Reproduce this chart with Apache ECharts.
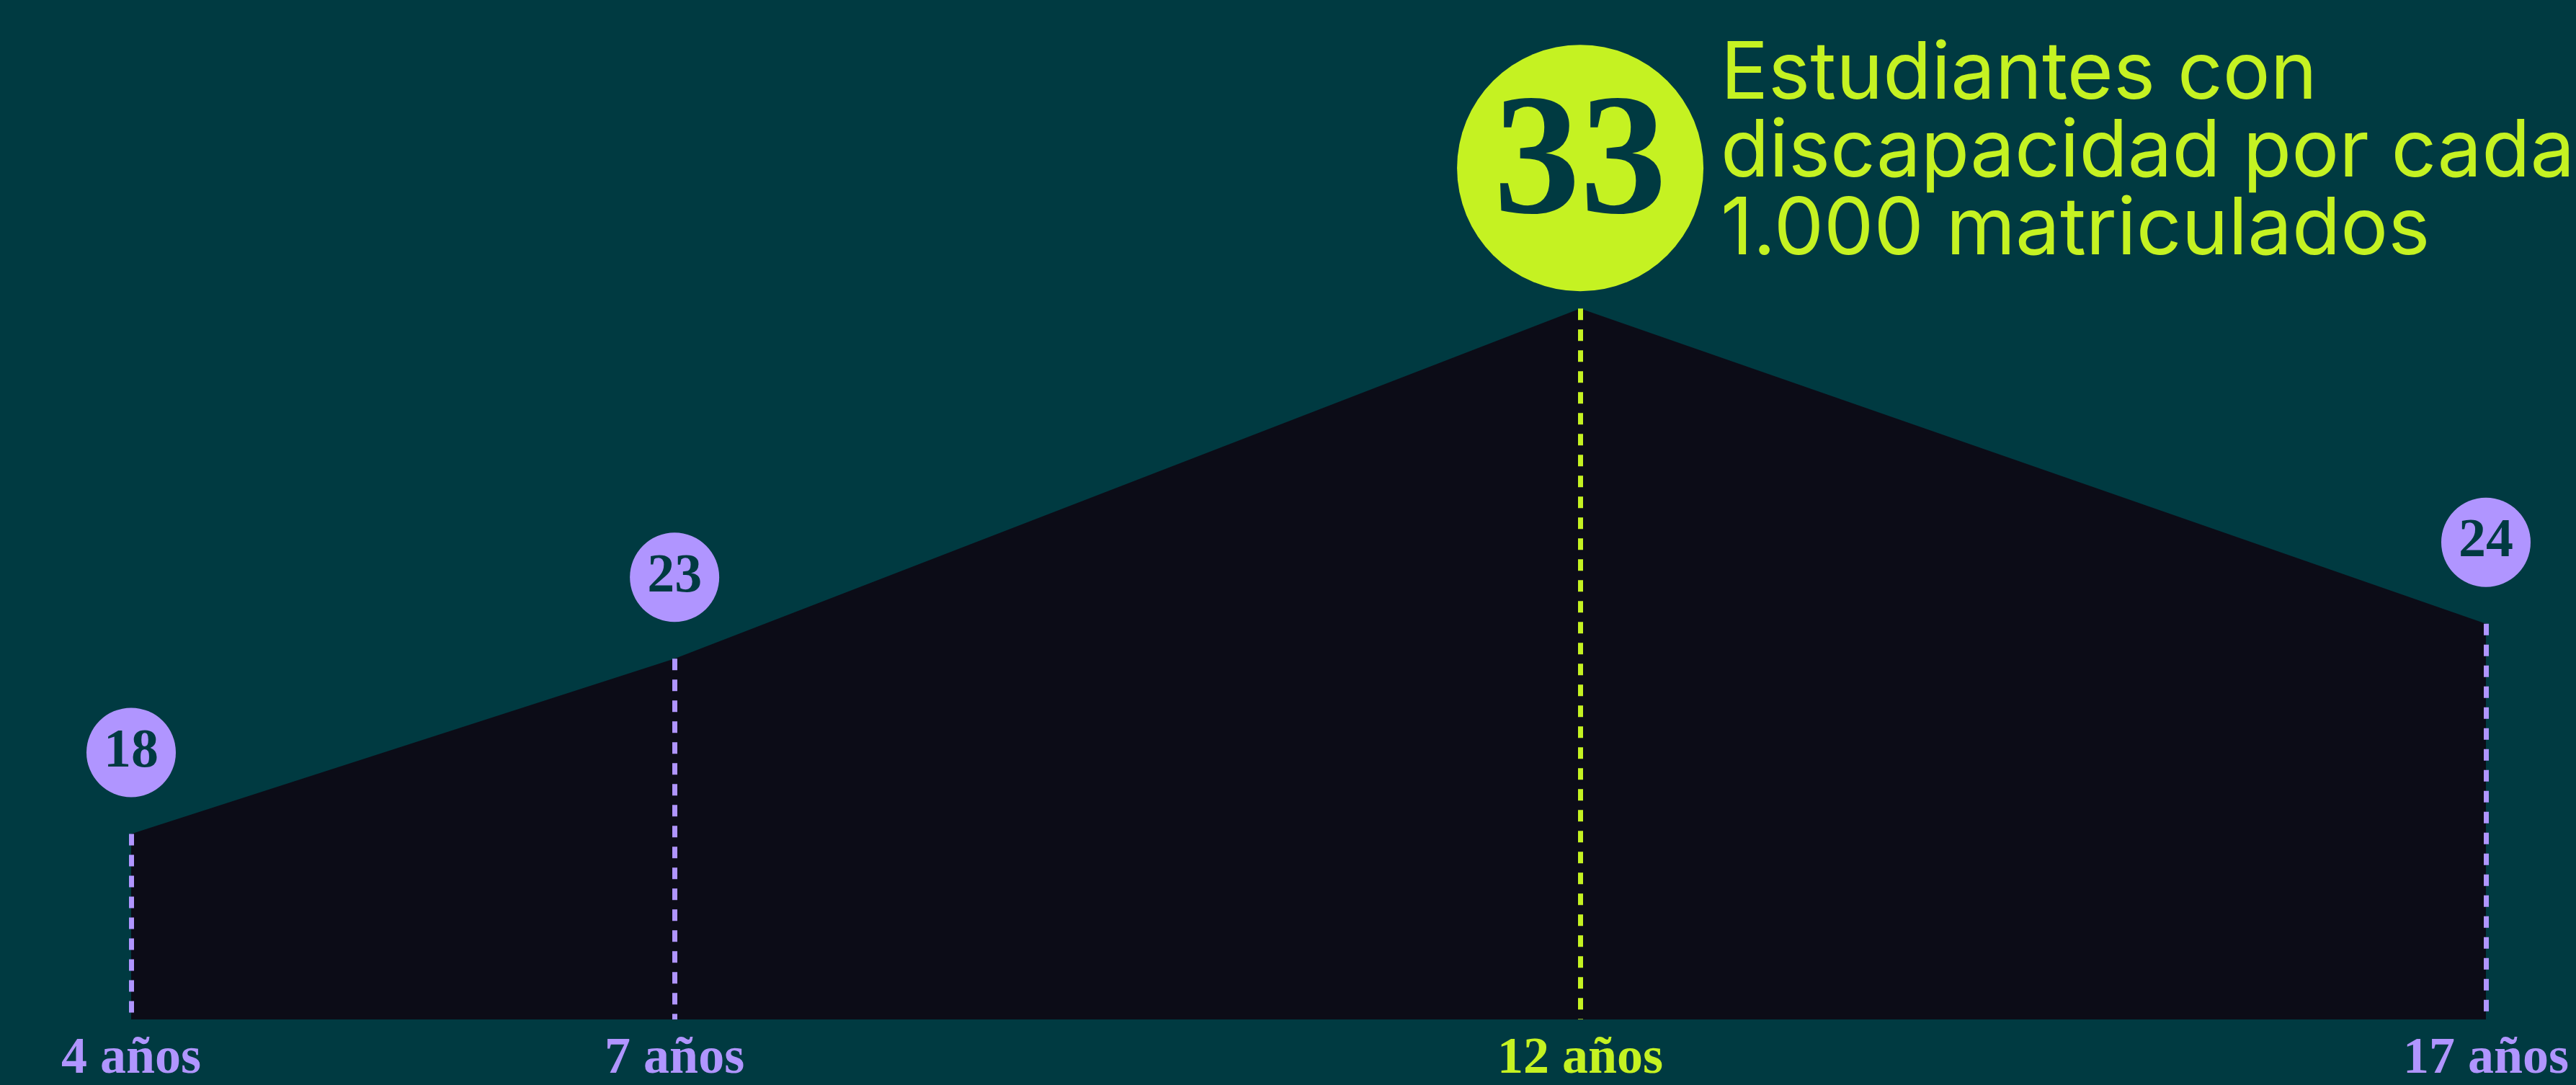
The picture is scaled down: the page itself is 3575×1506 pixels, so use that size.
<!DOCTYPE html>
<html>
<head>
<meta charset="utf-8">
<script src="https://cdn.jsdelivr.net/npm/echarts@6/dist/echarts.min.js"></script>
<style>
  html, body { margin: 0; padding: 0; background: #003a41; }
  #chart { width: 3575px; height: 1506px; }
</style>
</head>
<body>
<div id="chart"></div>
<script>
// ---- data ----
const ages = [4, 7, 12, 17];
const values = [18, 23, 33, 24];
const ageLabels = ['4 años', '7 años', '12 años', '17 años'];
const titleLines = ['Estudiantes con', 'discapacidad por cada', '1.000 matriculados'];

// ---- styles ----
const BG = '#003a41';
const AREA = '#0c0c17';
const PURPLE = '#b095ff';
const LIME = '#c5f222';
const SERIF = '"Liberation Serif", "DejaVu Serif", serif';
const Y_MIN = 12.7, Y_MAX = 40;

const maxVal = Math.max(...values);
const peakIdx = values.indexOf(maxVal);

const areaData = ages.map((a, i) => [a, values[i]]);

const dropLines = ages.map((a, i) => [
  { coord: [a, values[i]], lineStyle: { color: i === peakIdx ? LIME : PURPLE } },
  { coord: [a, Y_MIN] }
]);

const bubbleData = ages.map((a, i) => {
  const peak = i === peakIdx;
  return {
    value: [a, values[i]],
    symbolSize: peak ? 342 : 124,
    symbolOffset: [0, peak ? -195 : -113],
    itemStyle: { color: peak ? LIME : PURPLE, opacity: 1 },
    label: {
      show: true,
      position: 'inside',
      formatter: String(values[i]),
      fontFamily: SERIF,
      fontWeight: 'bold',
      fontSize: peak ? 240 : 76,
      color: BG
    }
  };
});

const chart = echarts.init(document.getElementById('chart'), null, { renderer: 'canvas' });
chart.setOption({
  backgroundColor: BG,
  animation: false,
  grid: { left: 182, right: 125, top: 88, bottom: 84 },
  xAxis: {
    type: 'value',
    min: ages[0],
    max: ages[ages.length - 1],
    axisLine: { show: false },
    axisTick: { show: false },
    splitLine: { show: false },
    axisLabel: {
      customValues: ages,
      showMinLabel: true,
      showMaxLabel: true,
      margin: 19,
      formatter: function (v) {
        const i = ages.indexOf(v);
        return i === peakIdx ? '{hi|' + ageLabels[i] + '}' : '{lo|' + ageLabels[i] + '}';
      },
      rich: {
        lo: { fontFamily: SERIF, fontWeight: 'bold', fontSize: 72, lineHeight: 72, color: PURPLE },
        hi: { fontFamily: SERIF, fontWeight: 'bold', fontSize: 72, lineHeight: 72, color: LIME }
      }
    }
  },
  yAxis: {
    type: 'value',
    min: Y_MIN,
    max: Y_MAX,
    show: false,
    splitLine: { show: false }
  },
  series: [
    {
      type: 'line',
      data: areaData,
      symbol: 'none',
      lineStyle: { width: 0, opacity: 0 },
      areaStyle: { color: AREA, opacity: 1, origin: 'start' },
      clip: false,
      z: 1,
      markLine: {
        silent: true,
        symbol: ['none', 'none'],
        label: { show: false },
        lineStyle: { type: [16, 13], width: 7, opacity: 1 },
        data: dropLines
      }
    },
    {
      type: 'scatter',
      data: bubbleData,
      clip: false,
      itemStyle: { opacity: 1 },
      emphasis: { disabled: true },
      z: 5
    }
  ],
  graphic: [
    {
      type: 'text',
      left: 2388,
      top: 49,
      style: {
        text: titleLines.join('\n'),
        font: '400 110px Inter',
        lineHeight: 108,
        fill: LIME
      }
    }
  ]
});
</script>
</body>
</html>
